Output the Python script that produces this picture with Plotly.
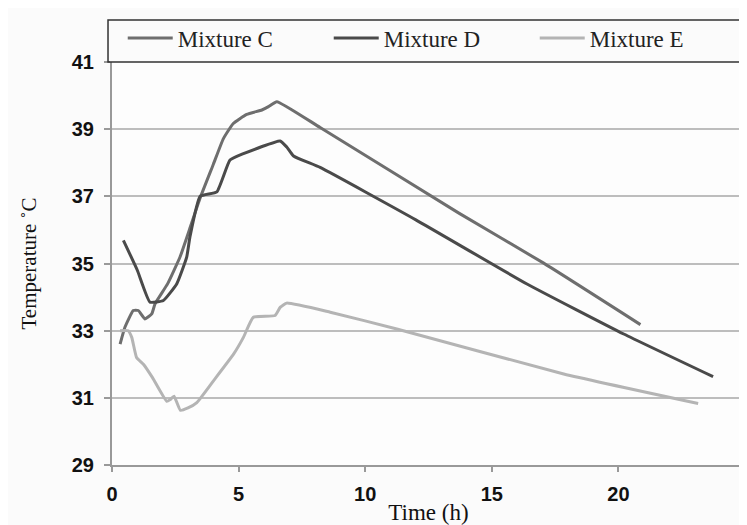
import plotly.graph_objects as go

# Data
c_time = [0.32, 0.51, 0.84, 1.04, 1.3, 1.57, 1.7, 2.2, 2.69, 3.1, 3.48, 4.0, 4.4, 4.79, 5.32, 5.92, 6.18, 6.51, 8.22, 13.7, 17.05, 20.87]
c_temp = [32.6, 33.1, 33.6, 33.6, 33.35, 33.5, 33.8, 34.4, 35.2, 36.1, 36.95, 37.95, 38.72, 39.17, 39.44, 39.57, 39.67, 39.82, 39.05, 36.5, 35.01, 33.18]

d_time = [0.45, 1.0, 1.5, 2.03, 2.56, 2.95, 3.08, 3.48, 4.14, 4.66, 5.19, 6.64, 6.9, 7.17, 8.22, 12.0, 16.39, 20.21, 23.74]
d_temp = [35.69, 34.8, 33.85, 33.9, 34.4, 35.19, 35.8, 37.0, 37.13, 38.08, 38.27, 38.65, 38.47, 38.2, 37.86, 36.3, 34.39, 32.9, 31.63]

e_time = [0.32, 0.64, 0.78, 0.97, 1.24, 1.6, 2.16, 2.3, 2.45, 2.7, 3.0, 3.35, 4.0, 4.8, 5.19, 5.58, 6.44, 6.65, 6.9, 8.62, 11.25, 17.84, 23.15]
e_temp = [33.0, 33.0, 32.8, 32.2, 32.0, 31.6, 30.9, 30.95, 31.05, 30.63, 30.7, 30.86, 31.5, 32.3, 32.8, 33.4, 33.45, 33.7, 33.82, 33.55, 33.05, 31.71, 30.83]

series_names = ["Mixture C", "Mixture D", "Mixture E"]
series_colors = ["#6e6e6e", "#4a4a4a", "#b4b4b4"]

x_ticks = [0, 5, 10, 15, 20, 25]
y_ticks = [29, 31, 33, 35, 37, 39, 41]

SERIF = "Liberation Serif"

fig = go.Figure()
for name, xs, ys, col in zip(series_names, [c_time, d_time, e_time], [c_temp, d_temp, e_temp], series_colors):
    fig.add_trace(go.Scatter(
        x=xs, y=ys, mode="lines", name=name,
        line=dict(color=col, width=3, shape="spline", smoothing=0.4),
    ))

# the page body has an 8px default margin, so the figure is sized to fit the window
fig.update_layout(
    width=739, height=517,
    margin=dict(l=104, r=2, t=54, b=60, autoexpand=False),
    paper_bgcolor="#fbfbfb",
    plot_bgcolor="#fdfdfd",
    showlegend=True,
    legend=dict(
        orientation="h", x=-0.002, xanchor="left", y=1.0596, yanchor="middle",
        bgcolor="rgba(0,0,0,0)", borderwidth=0,
        font=dict(family=SERIF, size=23, color="#222222"),
        itemwidth=45, entrywidth=134, entrywidthmode="pixels", indentation=12,
    ),
    shapes=[
        dict(type="rect", xref="paper", yref="paper",
             x0=-0.0063, x1=1.02, y0=1.0, y1=1.104,
             line=dict(color="#333333", width=1.5), fillcolor="rgba(0,0,0,0)", layer="above"),
        dict(type="line", xref="paper", yref="paper",
             x0=1.0, x1=1.0, y0=0, y1=1,
             line=dict(color="#555555", width=1.5)),
    ],
)

fig.update_xaxes(
    automargin=False,
    range=[0, 25], tickvals=x_ticks, ticktext=[str(v) for v in x_ticks],
    showgrid=False, zeroline=False,
    showline=True, linecolor="#999999", linewidth=2,
    ticks="outside", ticklen=5, tickcolor="#999999", tickwidth=1.5,
    tickfont=dict(family="Liberation Sans", size=20, color="#111111", weight="bold"),
    ticklabelstandoff=5,
    title=dict(text="Time (h)", font=dict(family=SERIF, size=23, color="#111111"), standoff=2),
)
fig.update_yaxes(
    automargin=False,
    range=[29, 41], tickvals=y_ticks, ticktext=[str(v) for v in y_ticks],
    showgrid=True, gridcolor="#bdbdbd", gridwidth=2, zeroline=False,
    showline=True, linecolor="#999999", linewidth=2,
    ticks="outside", ticklen=6, tickcolor="#999999", tickwidth=1.5,
    tickfont=dict(family="Liberation Sans", size=20, color="#111111", weight="bold"),
    ticklabelstandoff=6,
    title=dict(text="Temperature ˚C", font=dict(family=SERIF, size=21, color="#111111"), standoff=29),
)

fig.write_html("out.html")
